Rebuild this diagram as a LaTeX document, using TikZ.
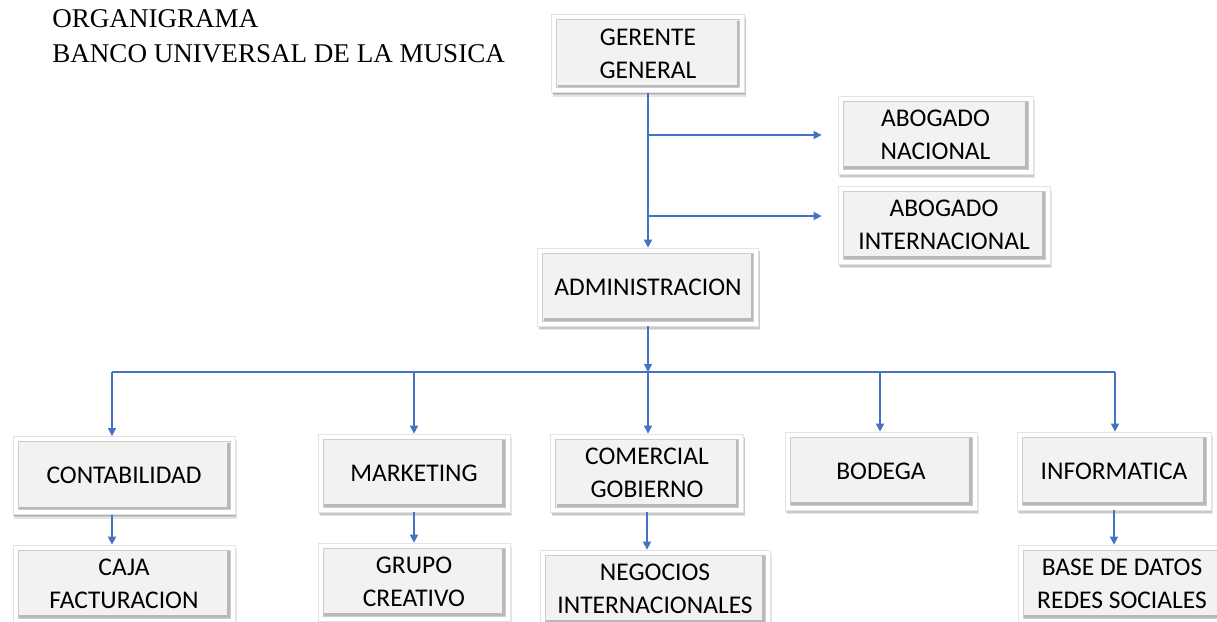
\documentclass[tikz,border=0pt]{standalone}
\usepackage{fontspec}
\setmainfont{Liberation Serif}
\newfontfamily\carlito{Carlito}
\usepackage{tikz}
\usetikzlibrary{arrows.meta,shadows,positioning}
\definecolor{linkblue}{HTML}{4472C4}
\definecolor{boxgray}{HTML}{F2F2F2}
\tikzstyle{wire}=[draw=linkblue,line width=0.6pt]
\tikzstyle{link}=[draw=linkblue,line width=0.6pt,-{Triangle[width=1.6mm,length=1.6mm]}]
\tikzstyle{title}=[anchor=base west, inner sep=0pt,
   font=\fontsize{15.4}{20}\selectfont]
\tikzstyle{box} =
  [fill=white, draw=gray!22, line width=0.4pt, align=center, inner sep=1mm,
   minimum height=15.6mm,
   font=\carlito\fontsize{14.5}{18.8}\selectfont,
   general shadow={shadow xshift=0.3mm,shadow yshift=-0.8mm,opacity=0.1,fill=black},
   general shadow={shadow xshift=0.2mm,shadow yshift=-0.5mm,opacity=0.12,fill=black},
   drop shadow={shadow xshift=0.1mm,shadow yshift=-0.25mm,opacity=0.12,fill=black},
   path picture={
     \path[fill=boxgray,draw=gray!40,line width=0.3pt]
       ([shift={(1mm,-1mm)}]path picture bounding box.north west) rectangle
       ([shift={(-1mm,1mm)}]path picture bounding box.south east);
     \draw[gray!55,line width=0.55mm]
       ([shift={(1.2mm,1.3mm)}]path picture bounding box.south west) --
       ([shift={(-1.3mm,1.3mm)}]path picture bounding box.south east) --
       ([shift={(-1.3mm,-1.2mm)}]path picture bounding box.north east);
   }]

\begin{document}
\begin{tikzpicture}[x=0.2mm, y=-0.2mm]
  \path[use as bounding box, fill=white] (0,0) rectangle (1217,621);

  \node [title] (t1) at (52,27) {ORGANIGRAMA};
  \node [title] (t2) at (52,62) {BANCO UNIVERSAL DE LA MUSICA};

  \node [box, minimum width=38.6mm] (gerente) at (648,53.5) {GERENTE\\GENERAL};
  \node [box, minimum width=39mm] (abnac) at (935.5,135) {ABOGADO\\NACIONAL};
  \node [box, minimum width=42.4mm] (abint) at (944,225) {ABOGADO\\INTERNACIONAL};
  \node [box, minimum width=44.2mm] (admin) at (648,287) {ADMINISTRACION};

  \node [box, minimum width=44.4mm] (conta) at (124,475.5) {CONTABILIDAD};
  \node [box, minimum width=38.4mm] (mkt) at (414,473) {MARKETING};
  \node [box, minimum width=38.6mm] (comer) at (647,473) {COMERCIAL\\GOBIERNO};
  \node [box, minimum width=38.4mm] (bodega) at (881,471) {BODEGA};
  \node [box, minimum width=38.8mm] (info) at (1114,471) {INFORMATICA};

  \node [box, minimum width=44.4mm, below of=conta, node distance=21.7mm] (caja) {CAJA\\FACTURACION};
  \node [box, minimum width=38.4mm, below of=mkt, node distance=21.8mm] (grupo) {GRUPO\\CREATIVO};
  \node [box, minimum width=46mm, below of=comer, node distance=23.2mm, xshift=1.6mm] (negocios) {NEGOCIOS\\INTERNACIONALES};
  \node [box, minimum width=41.6mm, below of=info, node distance=22.6mm, xshift=1.6mm] (base) {BASE DE DATOS\\REDES SOCIALES};

  \coordinate (r1) at (648,135);
  \coordinate (r2) at (648,216);
  \coordinate (bus) at (648,372);
  \coordinate (d1) at (112,372);
  \coordinate (d2) at (414,372);
  \coordinate (d4) at (880,372);
  \coordinate (d5) at (1115,372);

  \draw [link] (gerente.south) to (admin.north);
  \draw [link, shorten >=3.2mm] (r1) to (r1 -| abnac.west);
  \draw [link, shorten >=3.2mm] (r2) to (r2 -| abint.west);
  \draw [link] (admin.south) to (bus);

  \draw [wire] (d1) to (d5);
  \draw [link] (d1) to (d1 |- conta.north);
  \draw [link] (d2) to (d2 |- mkt.north);
  \draw [link] (bus) to (bus |- comer.north);
  \draw [link] (d4) to (d4 |- bodega.north);
  \draw [link] (d5) to (d5 |- info.north);

  \draw [link] (conta.south -| d1) to (caja.north -| d1);
  \draw [link] (mkt.south) to (grupo.north);
  \draw [link] (comer.south) to (comer.south |- negocios.north);
  \draw [link] (info.south) to (info.south |- base.north);
\end{tikzpicture}
\end{document}
